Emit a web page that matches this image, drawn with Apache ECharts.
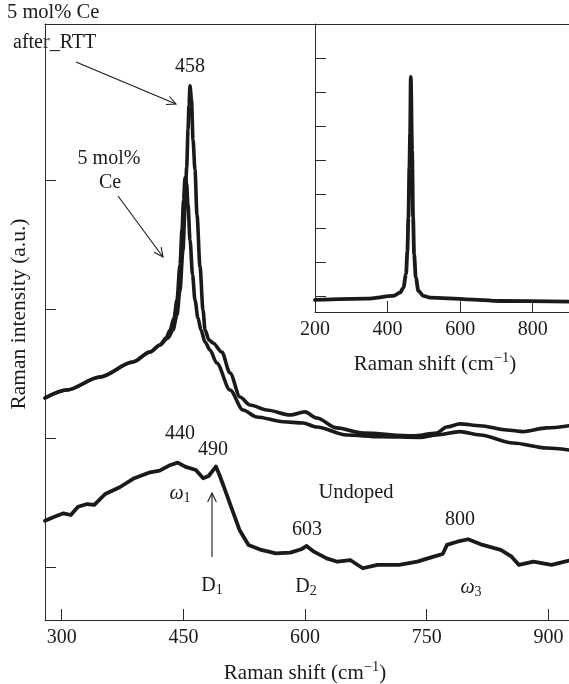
<!DOCTYPE html>
<html><head><meta charset="utf-8">
<script src="https://cdn.jsdelivr.net/npm/echarts@6/dist/echarts.min.js"></script>
<style>html,body{margin:0;padding:0;background:#fff}#c{width:569px;height:684px}</style>
</head><body><div id="c"></div>
<script>
// Main panel: x = Raman shift (cm^-1), y = intensity (a.u., stacked offsets)
const mainXTicks = [300, 450, 600, 750, 900];
const mainYTicks = [1, 2, 3, 4];
const insetXTicks = [200, 400, 600, 800];
const insetYTicks = [1, 2, 3, 4, 5, 6, 7, 8];

const undopedX = [279.4,291.0,302.2,311.2,320.1,331.3,340.2,353.6,371.5,389.5,407.4,420.8,434.1,443.1,452.0,465.4,474.4,481.1,490.1,494.5,501.3,510.2,519.2,530.3,546.0,564.0,581.8,595.3,601.9,610.9,626.6,639.9,655.6,671.2,689.2,716.0,738.4,758.5,769.7,775.0,787.6,801.0,818.9,841.2,854.7,863.7,881.5,903.9,925.4];
const undopedY = [1.359,1.390,1.416,1.403,1.467,1.488,1.481,1.566,1.618,1.688,1.731,1.747,1.791,1.809,1.778,1.752,1.688,1.705,1.778,1.713,1.597,1.442,1.287,1.171,1.132,1.106,1.111,1.137,1.163,1.119,1.067,1.041,1.054,0.990,1.016,1.016,1.041,1.080,1.101,1.171,1.196,1.215,1.171,1.132,1.080,1.016,1.041,1.016,1.049];

const ceX = [279.4,306.2,347.2,387.9,408.9,421.2,428.6,433.6,438.4,442.1,445.8,448.3,450.2,452.0,453.9,455.7,458.2,461.3,464.3,468.0,471.7,476.7,482.8,491.1,507.5,523.5,540.4,572.8,597.5,614.4,651.4,692.4,741.7,762.3,791.0,815.7,856.4,897.9,925.4];
const ceY = [2.310,2.372,2.473,2.589,2.667,2.721,2.775,2.837,2.930,3.070,3.341,3.612,3.845,4.016,3.977,3.806,3.535,3.264,3.070,2.930,2.837,2.744,2.682,2.581,2.372,2.217,2.163,2.126,2.116,2.085,2.023,2.010,2.005,2.023,2.049,2.023,1.961,1.922,1.907];

const rttX = [279.4,306.2,347.2,387.9,408.9,421.2,431.0,437.2,442.1,445.8,449.5,452.0,454.1,455.7,456.9,458.2,460.0,461.9,464.3,466.8,470.5,474.2,476.7,481.6,486.5,497.3,507.5,519.8,532.1,552.7,581.5,599.9,614.4,639.0,671.5,733.1,762.3,774.7,791.0,815.7,848.6,868.7,897.9,925.4];
const rttY = [2.310,2.372,2.473,2.589,2.667,2.721,2.775,2.837,2.953,3.147,3.457,3.767,4.101,4.388,4.581,4.729,4.620,4.310,4.078,3.729,3.326,2.992,2.837,2.760,2.736,2.667,2.504,2.318,2.256,2.217,2.178,2.202,2.155,2.078,2.039,2.016,2.039,2.085,2.109,2.095,2.062,2.049,2.078,2.095];

// Inset: full-scale spectrum of 5 mol% Ce after RTT
const insetX = [200,342.6,416,434.5,443.6,451.0,454.6,457.4,460.1,462.1,464.0,467.6,470.3,473.1,477.8,485.0,498.8,517.2,618,710,900];
const insetY = [0.882,0.920,1.0,1.098,1.246,1.651,2.331,3.317,4.796,5.793,7.459,5.290,3.317,2.243,1.541,1.148,1.0,0.950,0.902,0.852,0.831];

const FONT = '"Liberation Serif","Times New Roman",serif';
const INK = '#1a1a1a';
const AX = '#2a2a2a';

function zip(a, b) { return a.map((v, i) => [v, b[i]]); }

const chart = echarts.init(document.getElementById('c'), null, {renderer: 'canvas'});

function axisX(grid, min, max, ticks, pos, showLab) {
  return {
    type: 'value', gridIndex: grid, min: min, max: max, position: pos || 'bottom',
    axisLine: {show: true, onZero: false, lineStyle: {color: AX, width: 1}},
    axisTick: {show: !!ticks, inside: true, length: 11, customValues: ticks || [], lineStyle: {color: AX, width: 1}},
    axisLabel: {show: !!showLab, customValues: ticks || [], margin: 8, fontSize: 20, fontFamily: FONT, color: INK},
    splitLine: {show: false}
  };
}
function axisY(grid, min, max, ticks) {
  return {
    type: 'value', gridIndex: grid, min: min, max: max,
    axisLine: {show: true, onZero: false, lineStyle: {color: AX, width: 1}},
    axisTick: {show: true, inside: true, length: 11, customValues: ticks, lineStyle: {color: AX, width: 1}},
    axisLabel: {show: false},
    splitLine: {show: false}
  };
}

function lineSeries(x, y, xi, yi, smooth, w) {
  return {
    type: 'line', xAxisIndex: xi, yAxisIndex: yi, data: zip(x, y),
    showSymbol: false, symbol: 'none', smooth: smooth, smoothMonotone: 'x',
    lineStyle: {color: INK, width: w, join: 'round', cap: 'round'}, silent: true, animation: false
  };
}

function arrow(x1, y1, x2, y2) {
  const a = Math.atan2(y2 - y1, x2 - x1), L = 10, t = 0.45;
  const p1 = [x2 - L * Math.cos(a - t), y2 - L * Math.sin(a - t)];
  const p2 = [x2 - L * Math.cos(a + t), y2 - L * Math.sin(a + t)];
  return [
    {type: 'line', shape: {x1: x1, y1: y1, x2: x2, y2: y2}, style: {stroke: INK, lineWidth: 1.1}},
    {type: 'polyline', shape: {points: [p1, [x2, y2], p2]}, style: {stroke: INK, lineWidth: 1.1, fill: null}}
  ];
}
function txt(t, x, y, align, size) {
  return {type: 'text', x: x, y: y, style: {text: t, fontSize: size || 20, fontFamily: FONT, fill: INK, textAlign: align || 'center', textVerticalAlign: 'middle'}};
}
function richTxt(t, x, y, rich, rot, size) {
  return {type: 'text', x: x, y: y, rotation: rot || 0,
    style: {text: t, fontSize: size || 20, fontFamily: FONT, fill: INK, textAlign: 'center', textVerticalAlign: 'middle', rich: rich}};
}
const supRich = {
  n: {fontSize: 21, fontFamily: FONT, lineHeight: 26, color: INK},
  s: {fontSize: 14.5, fontFamily: FONT, lineHeight: 14, verticalAlign: 'top', color: INK}
};
const subRich = {
  i: {fontSize: 20, fontFamily: FONT, fontStyle: 'italic', lineHeight: 22, color: INK},
  n: {fontSize: 20, fontFamily: FONT, lineHeight: 22, color: INK},
  b: {fontSize: 14, fontFamily: FONT, lineHeight: 14, verticalAlign: 'bottom', color: INK}
};

const graphics = [].concat(
  [txt('5 mol% Ce', 7, 13, 'left', 20.5), txt('after_RTT', 13, 43, 'left', 20)],
  arrow(76, 62, 176, 104),
  [txt('458', 190, 67)],
  [txt('5 mol%', 109, 159), txt('Ce', 110, 183)],
  arrow(118, 196, 163, 257),
  [txt('440', 180, 434), txt('490', 213, 450)],
  [richTxt('{i|\u03c9}{b|1}', 180, 494, subRich)],
  arrow(212, 557, 212, 493),
  [txt('Undoped', 356, 493, 'center', 20.5)],
  [txt('603', 307, 530), txt('800', 460, 520)],
  [richTxt('{n|D}{b|1}', 212, 586, subRich), richTxt('{n|D}{b|2}', 306, 587, subRich), richTxt('{i|\u03c9}{b|3}', 471, 588, subRich)],
  [richTxt('{n|Raman shift (cm}{s|\u22121}{n|)}', 305, 673, supRich)],
  [richTxt('{n|Raman shift (cm}{s|\u22121}{n|)}', 435, 364, supRich)],
  [richTxt('Raman intensity (a.u.)', 19, 314, {}, Math.PI / 2, 21.5)]
);

chart.setOption({
  animation: false,
  backgroundColor: '#fff',
  grid: [
    {left: 45, top: 24, right: 0, bottom: 64, containLabel: false},
    {left: 315, top: 24, right: 0, bottom: 372, containLabel: false}
  ],
  xAxis: [
    axisX(0, 279.4, 925.4, mainXTicks, 'bottom', true),
    axisX(0, 279.4, 925.4, null, 'top', false),
    axisX(1, 200, 900, insetXTicks, 'bottom', true)
  ],
  yAxis: [
    axisY(0, 0.589, 5.209, mainYTicks),
    axisY(1, 0.527, 9.018, insetYTicks)
  ],
  series: [
    lineSeries(undopedX, undopedY, 0, 0, false, 3.8),
    lineSeries(ceX, ceY, 0, 0, 0.3, 3.6),
    lineSeries(rttX, rttY, 0, 0, 0.3, 3.6),
    lineSeries(insetX, insetY, 2, 1, 0.3, 3.8)
  ],
  graphic: graphics
});
</script>
</body></html>
